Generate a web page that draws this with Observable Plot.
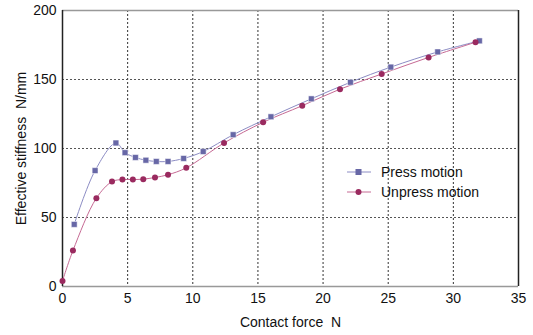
<!DOCTYPE html>
<html>
<head>
<meta charset="utf-8">
<script src="https://cdn.jsdelivr.net/npm/d3@7"></script>
<script src="https://cdn.jsdelivr.net/npm/@observablehq/plot@0.6"></script>
<style>
  body { margin: 0; background: #fff; }
  #wrap { position: relative; width: 533px; height: 335px; font-family: "Liberation Sans", Arial, sans-serif; }
  #legend { position: absolute; left: 347px; top: 162px; font-size: 14px; color: #111; }
  #legend .row { display: flex; align-items: center; height: 20px; }
  #legend svg { margin-right: 10px; }
</style>
</head>
<body>
<div id="wrap"></div>
<script>
const pressX = [0.9, 2.5, 4.1, 4.8, 5.6, 6.4, 7.2, 8.1, 9.3, 10.8, 13.1, 16.0, 19.1, 22.1, 25.2, 28.8, 32.0];
const pressY = [45, 84, 104, 97, 93.5, 91.5, 90.6, 90.6, 92.8, 97.8, 110, 123, 136, 148, 159, 170, 178];
const unpressX = [0, 0.8, 2.6, 3.8, 4.6, 5.4, 6.2, 7.1, 8.1, 9.5, 12.4, 15.4, 18.4, 21.3, 24.5, 28.1, 31.7];
const unpressY = [4, 26, 64, 76, 77.5, 77.5, 77.8, 79, 81, 86, 104, 119, 131, 143, 154, 166, 177];
const xTicks = [0, 5, 10, 15, 20, 25, 30, 35];
const yTicks = [0, 50, 100, 150, 200];
const seriesNames = ["Press motion", "Unpress motion"];

const pressColor = "#6767a6", pressLine = "#8c8cc4";
const unpressColor = "#9a2a5f", unpressLine = "#c66a94";

const press = pressX.map((x, i) => ({x, y: pressY[i]}));
const unpress = unpressX.map((x, i) => ({x, y: unpressY[i]}));

const chart = Plot.plot({
  width: 533,
  height: 335,
  marginLeft: 62,
  marginRight: 15,
  marginTop: 10,
  marginBottom: 49,
  style: {fontFamily: "Liberation Sans, Arial, sans-serif", fontSize: "14px", color: "#111", background: "#fff"},
  x: {domain: [0, 35]},
  y: {domain: [0, 200]},
  marks: [
    Plot.ruleX(xTicks.slice(1, -1), {stroke: "#333", strokeDasharray: "2,2", strokeWidth: 1}),
    Plot.ruleY(yTicks.slice(1, -1), {stroke: "#555", strokeDasharray: "2,2", strokeWidth: 1}),
    Plot.ruleY([200], {stroke: "#999", strokeWidth: 1.5}),
    Plot.ruleY([0], {stroke: "#999", strokeWidth: 1.5}),
    Plot.ruleX([0], {stroke: "#222", strokeWidth: 1.5}),
    Plot.ruleX([35], {stroke: "#222", strokeWidth: 1.5}),
    Plot.axisX({ticks: xTicks, tickSize: 0, tickPadding: 7, fontSize: 14, label: "Contact force  N", labelAnchor: "center", labelArrow: "none", labelOffset: 40}),
    Plot.axisY({ticks: yTicks, tickSize: 0, tickPadding: 6, fontSize: 14, label: "Effective stiffness  N/mm", labelAnchor: "center", labelArrow: "none", labelOffset: 46}),
    Plot.line(press, {x: "x", y: "y", stroke: pressLine, strokeWidth: 1, curve: "catmull-rom"}),
    Plot.line(unpress, {x: "x", y: "y", stroke: unpressLine, strokeWidth: 1, curve: "catmull-rom"}),
    Plot.dot(press, {x: "x", y: "y", symbol: "square", r: 3.3, fill: pressColor, stroke: "#fff", strokeWidth: 0.5}),
    Plot.dot(unpress, {x: "x", y: "y", symbol: "circle", r: 3, fill: unpressColor, stroke: "none"})
  ]
});

const wrap = document.getElementById("wrap");
wrap.appendChild(chart);

const legend = document.createElement("div");
legend.id = "legend";
const items = [
  {name: seriesNames[0], line: pressLine, fill: pressColor, sym: "square"},
  {name: seriesNames[1], line: unpressLine, fill: unpressColor, sym: "circle"}
];
for (const it of items) {
  const row = document.createElement("div");
  row.className = "row";
  const marker = it.sym === "square"
    ? `<rect x="8.5" y="4" width="6" height="6" fill="${it.fill}"/>`
    : `<circle cx="11.5" cy="7" r="3" fill="${it.fill}"/>`;
  row.innerHTML = `<svg width="24" height="14"><line x1="0" x2="24" y1="7" y2="7" stroke="${it.line}" stroke-width="1"/>${marker}</svg><span>${it.name}</span>`;
  legend.appendChild(row);
}
wrap.appendChild(legend);
</script>
</body>
</html>
